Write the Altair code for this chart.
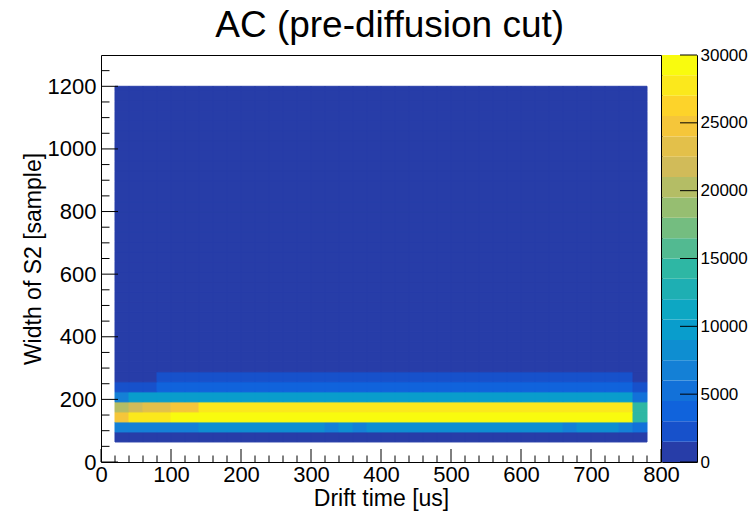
import altair as alt
import pandas as pd

FONT = "Liberation Sans"

# ---------------- data ----------------
# drift-time bins [us]: lower edges, 20 us wide
x_lo = list(range(20, 780, 20))          # 38 bins, 20 .. 760
X_W = 20

# S2-width rows [sample]: lower edges and counts in each drift bin
row_lo = [64, 96, 128, 160, 192, 224, 256]
row_counts = [
    [700] * 38,                                                              # 64-96
    [6800] * 6 + [8300] * 9 + [6800] + [8300] + [6800] + [8300] * 14
    + [6800] + [8300] * 3 + [6800] + [5200],                                # 96-128
    [24800] + [27700] * 3 + [29300] * 33 + [14200],                          # 128-160
    [20300, 21800, 23300, 23300, 24800, 24800] + [27700] * 31 + [14200],     # 160-192
    [6800] + [9800] * 36 + [5200],                                           # 192-224
    [2300] * 3 + [3700] * 34 + [2300],                                       # 224-256
    [900] * 3 + [2300] * 34 + [900],                                         # 256-288
]
Y_W = 32
# flat low-count region 288 .. 1200
upper_lo = list(range(288, 1200, 32))
upper_count = 300
Y_TOP = 1200

x_ticks_major = list(range(0, 801, 100))
y_ticks_major = list(range(0, 1201, 200))
z_ticks = [0, 5000, 10000, 15000, 20000, 25000, 30000]
z_levels = list(range(0, 30000, 1500))   # 20 colour contours

# ---------------- palette (ROOT kBird, 20 contours) ----------------
stops = [0.0, 0.125, 0.25, 0.375, 0.5, 0.625, 0.75, 0.875, 1.0]
red = [0.2082, 0.0592, 0.0780, 0.0232, 0.1802, 0.5301, 0.8186, 0.9956, 0.9764]
green = [0.1664, 0.3599, 0.5041, 0.6419, 0.7178, 0.7492, 0.7328, 0.7862, 0.9832]
blue = [0.5293, 0.8684, 0.8385, 0.7914, 0.6425, 0.4662, 0.3499, 0.1968, 0.0539]


def bird(t):
    for k in range(len(stops) - 1):
        if stops[k] <= t <= stops[k + 1]:
            f = (t - stops[k]) / (stops[k + 1] - stops[k])
            c = [a[k] + (a[k + 1] - a[k]) * f for a in (red, green, blue)]
            return "#" + "".join(f"{int(round(v * 255)):02x}" for v in c)
    return "#000000"


ND = len(z_levels)
palette = [bird(int((i + 0.99) * 255 / ND) / 254) for i in range(ND)]
cscale = alt.Scale(type="threshold", domain=z_levels[1:], range=palette)

# ---------------- tables ----------------
cells = []
for lo, counts in zip(row_lo, row_counts):
    for x0, c in zip(x_lo, counts):
        cells.append(dict(x0=x0, x1=x0 + X_W, y0=lo, y1=lo + Y_W, n=c))
for lo in upper_lo:
    for x0 in x_lo:
        cells.append(dict(x0=x0, x1=x0 + X_W, y0=lo, y1=min(lo + Y_W, Y_TOP), n=upper_count))
cells = pd.DataFrame(cells)

x_minor = [v for v in range(0, 801, 20) if v % 100]
y_minor = [v for v in range(0, 1300, 50) if v % 200]

W, H = 560, 407
CBW = 35

xs = alt.Scale(domain=[0, 800], nice=False, zero=False)
ys = alt.Scale(domain=[0, 1300], nice=False, zero=False)

common = dict(labelFont=FONT, labelColor="black", grid=False, ticks=False, tickSize=0,
              domain=False, labelFlush=False, labelOverlap=False, format="d")
titles = dict(titleFont=FONT, titleColor="black", titleFontWeight="normal")

heat = alt.Chart(cells).mark_rect(strokeWidth=1).encode(
    x=alt.X("x0:Q", scale=xs, axis=alt.Axis(values=x_ticks_major, labelFontSize=22,
                                            labelPadding=2, title="Drift time [us]",
                                            titleFontSize=23, titlePadding=2,
                                            **common, **titles)),
    x2="x1:Q",
    y=alt.Y("y0:Q", scale=ys, axis=alt.Axis(values=y_ticks_major, labelFontSize=22,
                                            labelPadding=5, title="Width of S2 [sample]",
                                            titleFontSize=23, titlePadding=2,
                                            **common, **titles)),
    y2="y1:Q",
    color=alt.Color("n:Q", scale=cscale, legend=None),
    stroke=alt.Stroke("n:Q", scale=cscale, legend=None),
)

xmaj = alt.Chart(pd.DataFrame({"t": x_ticks_major})).mark_rule(color="black").encode(
    x=alt.X("t:Q", scale=xs), y=alt.value(H), y2=alt.value(H - 13))
xmin = alt.Chart(pd.DataFrame({"t": x_minor})).mark_rule(color="black").encode(
    x=alt.X("t:Q", scale=xs), y=alt.value(H), y2=alt.value(H - 6.5))
ymaj = alt.Chart(pd.DataFrame({"t": y_ticks_major})).mark_rule(color="black").encode(
    y=alt.Y("t:Q", scale=ys), x=alt.value(0), x2=alt.value(17))
ymin = alt.Chart(pd.DataFrame({"t": y_minor})).mark_rule(color="black").encode(
    y=alt.Y("t:Q", scale=ys), x=alt.value(0), x2=alt.value(8.5))

main = alt.layer(heat, xmaj, xmin, ymaj, ymin).properties(width=W, height=H)

zs = alt.Scale(domain=[0, 30000], nice=False, zero=False)
cb_df = pd.DataFrame({"lo": z_levels, "hi": [v + 1500 for v in z_levels],
                      "mid": [v + 750 for v in z_levels]})
cb_rect = alt.Chart(cb_df).mark_rect().encode(
    x=alt.value(0), x2=alt.value(CBW),
    y=alt.Y("lo:Q", scale=zs, axis=alt.Axis(orient="right", values=z_ticks, labelFontSize=17,
                                            labelPadding=3, title=None, **common)),
    y2="hi:Q",
    color=alt.Color("mid:Q", scale=cscale, legend=None),
)
cb_ticks = alt.Chart(pd.DataFrame({"t": z_ticks})).mark_rule(color="black").encode(
    y=alt.Y("t:Q", scale=zs), x=alt.value(CBW - 17), x2=alt.value(CBW))
cbar = alt.layer(cb_rect, cb_ticks).properties(width=CBW, height=H)

chart = alt.hconcat(main, cbar, spacing=1, bounds="flush").properties(
    title=alt.TitleParams("AC (pre-diffusion cut)", font=FONT, fontSize=37, fontWeight="normal",
                          color="black", anchor="middle", offset=1, dx=5),
    padding={"left": 21, "top": 6, "right": 0, "bottom": 0},
    background="white",
).configure_view(stroke="black", strokeWidth=1)

chart.save("out.html", embed_options={"renderer": "svg", "actions": False})
